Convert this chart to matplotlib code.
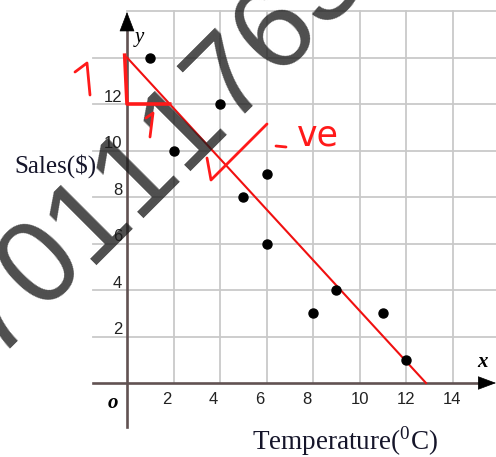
import numpy as np
import matplotlib
matplotlib.use("Agg")
from matplotlib import pyplot as plt
import matplotlib.transforms as mtransforms

# data
temperature = [1, 2, 4, 5, 6, 6, 8, 9, 11, 12]
sales = [14, 10, 12, 8, 9, 6, 3, 4, 3, 1]
line_start = (0, 14)        # red trend line starts here
line_end_x = 12.86          # and crosses the x axis here
x_ticks = [2, 4, 6, 8, 10, 12, 14]
y_ticks = [2, 4, 6, 8, 10, 12]
watermark = "70111763"

plt.rcParams['mathtext.fontset'] = 'custom'
plt.rcParams['mathtext.rm'] = 'Liberation Serif'

W, H = 496, 457
X0, Y0, S = 127.0, 383.0, 23.25   # pixel origin and pixels per unit

fig = plt.figure(figsize=(W / 100, H / 100), dpi=100)
ax = fig.add_axes([0, 0, 1, 1])
ax.set_xlim(-X0 / S, (W - X0) / S)
ax.set_ylim((Y0 - H) / S, Y0 / S)
ax.axis('off')


def px(x, y):
    # picture pixels -> data units
    return (x - X0) / S, (Y0 - y) / S


xmin, xmax = ax.get_xlim()
grid_left = -1.46
grid_top = 16
gc = '#c9c9c9'

# grid
for gy in range(2, grid_top + 1, 2):
    left = 0 if gy == grid_top else grid_left
    ax.plot([left, xmax], [gy, gy], color=gc, lw=1.3, zorder=1)
for gx in range(2, 15, 2):
    ax.plot([gx, gx], [0, grid_top], color=gc, lw=1.3, zorder=1)

# axes with arrows
axc = '#615252'
ax.plot([grid_left, xmax - 0.3], [0, 0], color=axc, lw=1.9, zorder=2)
ax.plot([0, 0], [-1.89, grid_top - 0.5], color=axc, lw=1.9, zorder=2)
ax.annotate('', xy=(xmax, 0), xytext=(xmax - 0.5, 0),
            arrowprops=dict(arrowstyle='-|>,head_length=1.2,head_width=0.45',
                            mutation_scale=10, color='black', lw=0.5,
                            shrinkA=0, shrinkB=0), zorder=2)
ax.annotate('', xy=(0, 15.96), xytext=(0, 15.4),
            arrowprops=dict(arrowstyle='-|>,head_length=1.3,head_width=0.5',
                            mutation_scale=10, color='black', lw=0.5,
                            shrinkA=0, shrinkB=0), zorder=2)

# tick labels
tk = dict(family='Liberation Sans', fontsize=12, color='#222222')
for v in y_ticks:
    ax.text(-0.2, v + 0.3, str(v), ha='right', va='center', **tk)
for v in x_ticks:
    off = -0.27 if v < 10 else 0
    ax.text(v + off, -0.73, str(v), ha='center', va='center', **tk)

ax.text(-0.6, -0.87, 'o', family='Liberation Serif', fontsize=15,
        style='italic', weight='bold', ha='center', va='center')
ax.text(0.55, 14.85, 'y', family='Liberation Serif', fontsize=15,
        style='italic', ha='center', va='center')
ax.text(15.3, 0.9, 'x', family='Liberation Serif', fontsize=15,
        style='italic', weight='bold', ha='center', va='center')
ax.text(-4.85, 9.35, 'Sales($)', family='Liberation Serif', fontsize=18,
        color='#15152a', ha='left', va='center')
ax.text(*px(345, 441), r'Temperature($^{0}$C)', family='Liberation Serif',
        fontsize=19.5, color='#15152a', ha='center', va='center')

# trend line
line_x = np.array([line_start[0], line_end_x])
slope = -line_start[1] / line_end_x
line_y = line_start[1] + slope * (line_x - line_start[0])
ax.plot(line_x, line_y, color='#f01010', lw=1.5, zorder=4)

# watermark, one glyph at a time along a 45 degree line
cx, cy = 34 - 47, 258 + 47      # centre of the first glyph, pixels
for i, ch in enumerate(watermark):
    gx_, gy_ = cx + 47 * i + 30, cy - 47 * i + 30
    ax.text(*px(gx_, gy_), ch, family='Liberation Sans', fontsize=86,
            color='#1c1c1c', alpha=0.78, rotation=45, rotation_mode='anchor',
            ha='center', va='baseline', zorder=5)

# points
ax.plot(temperature, sales, 'o', color='black', ms=6.5, zorder=6)

# handwritten slope triangle from the line
rc = '#ff1a1a'
x12 = (12 - line_start[1]) / slope
ax.plot([-0.1, 0, x12], [line_start[1] + 0.1, 12, 12], color=rc, lw=2.6,
        solid_joinstyle='round', zorder=7)


def stroke(anchor, xs, ys, lw=2.0):
    # pen stroke, shape given in pixels relative to an anchor pixel
    off = mtransforms.ScaledTranslation(*px(*anchor), ax.transData)
    tr = mtransforms.Affine2D().scale(0.01) + fig.dpi_scale_trans + off
    ax.plot(xs, ys, color=rc, lw=lw, transform=tr, zorder=7,
            solid_capstyle='round', solid_joinstyle='round')


stroke((75, 72), [0, 12, 15], [0, 9, -23])
stroke((146, 118), [0, 7, 4], [0, 5, -19])
stroke((207, 158), [0, 4, 60], [0, -22, 34])
stroke((276, 147), [0, 10], [1, 0])
ax.text(*px(318, 136), 've', family='DejaVu Sans', fontsize=25, color=rc,
        ha='center', va='center', zorder=7)

fig.savefig('out.png', dpi=100)
